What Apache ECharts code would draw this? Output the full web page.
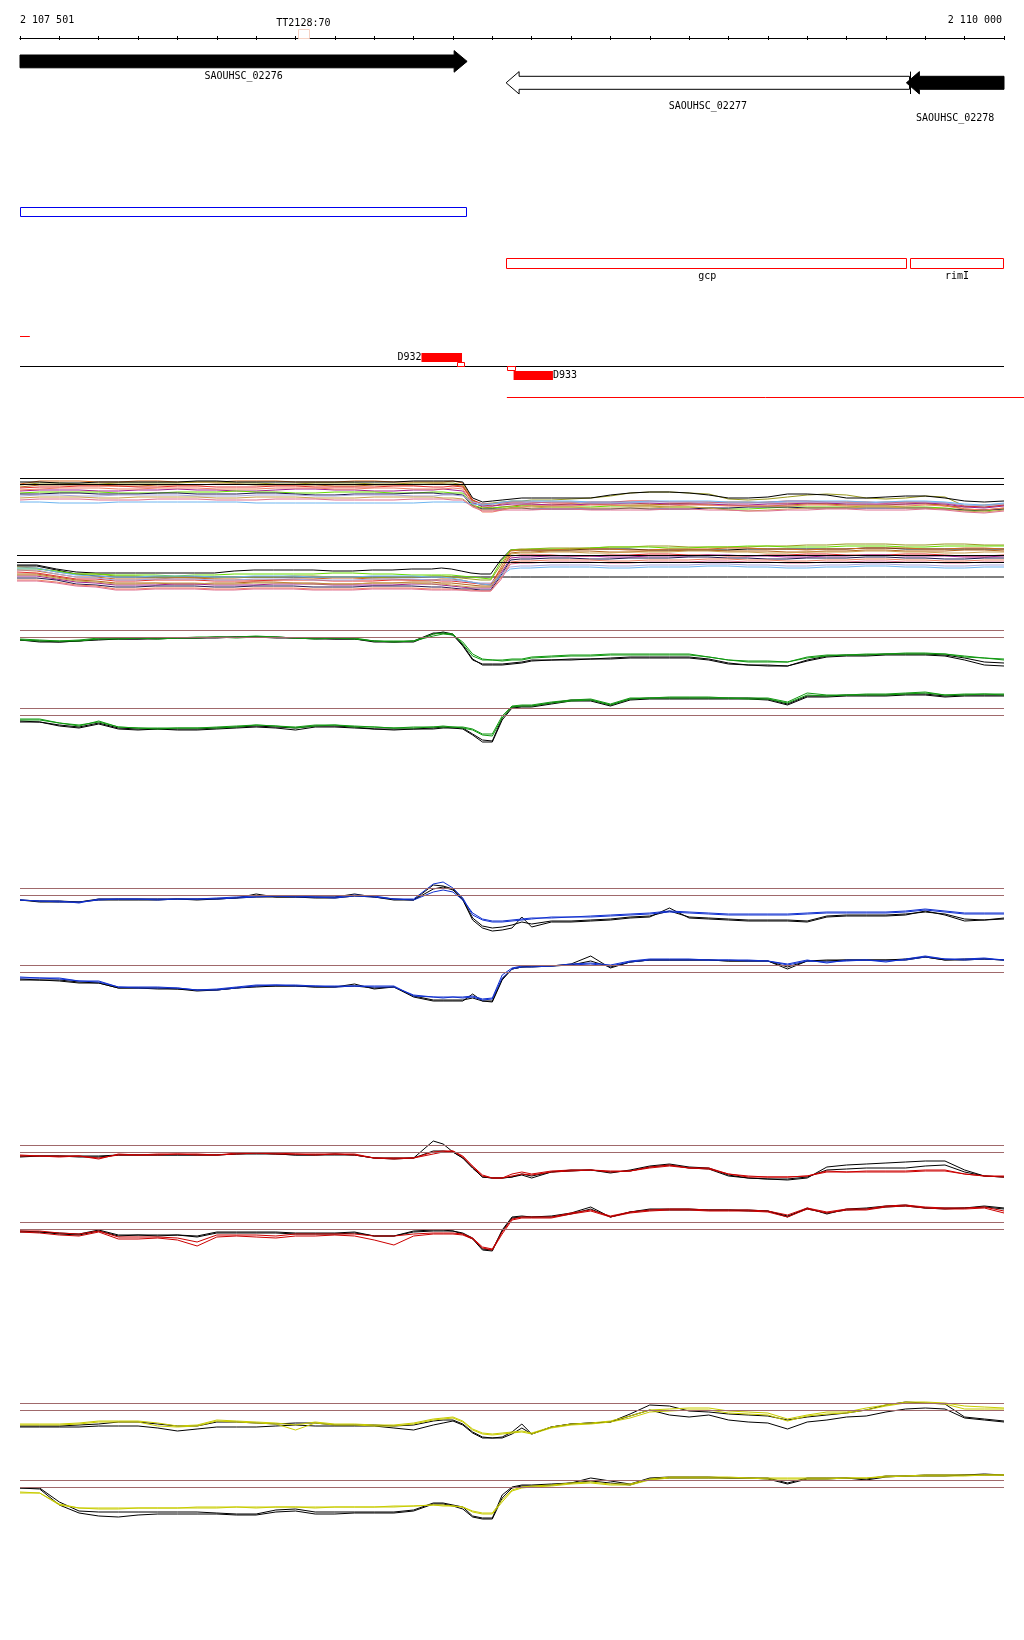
<!DOCTYPE html>
<html><head><meta charset="utf-8">
<script src="https://cdn.jsdelivr.net/npm/echarts@6.0.0/dist/echarts.min.js"></script>
<style>html,body{margin:0;padding:0;background:#fff}#main{width:1024px;height:1640px}</style>
</head><body><div id="main"></div>
<script>
// ---------------- DATA ----------------
const viewStart = 2107500, viewEnd = 2110000, tickStep = 100;
const rulerLabels = ['2 107 501', '2 110 000'];

const geneNames  = ['SAOUHSC_02276', 'SAOUHSC_02277', 'SAOUHSC_02278'];
const geneStart  = [2107380, 2108735, 2109752];
const geneEnd    = [2108636, 2109760, 2110320];
const geneStrand = ['+', '-', '-'];
const geneType   = ['CDS', 'misc', 'CDS'];

const probeLabels = ['TT2128:70'];
const probeStart  = [2108206];
const probeEnd    = [2108234];

const regionLabels = ['', 'gcp', 'rimI'];
const regionStart  = [2107380, 2108736, 2109761];
const regionEnd    = [2108636, 2109756, 2110300];
const regionStrand = ['+', '-', '-'];

const backbone = [viewStart, viewEnd];
const dashStart = [2107500], dashEnd = [2107525];
const siteLabels = ['D932', 'D933'];
const siteStart  = [2108520, 2108754];
const siteEnd    = [2108623, 2108854];
const siteStrand = ['+', '-'];
const boxStart  = [2108611, 2108737];
const boxEnd    = [2108630, 2108758];
const boxStrand = ['+', '-'];
const spanStart = [2108737], spanEnd = [2110051];

// probe positions shared by all signal tracks
const pos = [2107500,2107550,2107600,2107650,2107700,2107750,2107800,2107850,2107900,2107950,
 2108000,2108050,2108100,2108150,2108200,2108250,2108300,2108350,2108400,2108450,
 2108500,2108550,2108575,2108600,2108625,2108650,2108675,2108700,2108725,2108750,
 2108775,2108800,2108850,2108900,2108950,2109000,2109050,2109100,2109150,2109200,
 2109250,2109300,2109350,2109400,2109450,2109500,2109550,2109600,2109650,2109700,
 2109750,2109800,2109850,2109900,2109950,2110000];

// forward-strand multi-sample track
const fw1 = [3.6,3.9,3.9,3.9,3.8,3.8,3.9,3.9,3.8,3.8,3.8,3.9,3.9,3.9,3.8,3.8,3.8,3.9,3.9,3.8,3.8,3.8,3.8,3.9, 3.7,2.0, 1.5,1.4,1.6,1.7,1.7,1.7,1.8,1.8,1.7,1.7,1.7,1.6,1.6,1.7,1.7,1.8,1.8,1.7,1.7,1.7,1.6,1.7,1.7,1.8,1.8,1.7,1.4,1.3,1.5,1.6];
const fw2 = [3.5,3.7,3.7,3.6,3.6,3.7,3.7,3.7,3.7,3.8,3.8,3.7,3.7,3.6,3.6,3.7,3.7,3.7,3.6,3.6,3.7,3.7,3.7,3.7, 3.5,1.9, 1.6,1.7,1.8,1.9,1.9,2.0,2.0,2.1,2.2,2.4,2.7,2.8,2.8,2.7,2.6,2.1,2.0,2.1,2.3,2.5,2.6,2.5,2.2,2.1,2.2,2.4,2.3,1.4,1.3,1.5];
const fw3 = [3.3,3.5,3.5,3.5,3.5,3.4,3.4,3.5,3.5,3.5,3.6,3.6,3.5,3.5,3.5,3.5,3.4,3.4,3.5,3.5,3.5,3.6,3.6,3.5, 3.4,1.8, 1.3,1.2,1.3,1.4,1.5,1.5,1.5,1.6,1.6,1.5,1.5,1.5,1.6,1.6,1.5,1.5,1.4,1.4,1.5,1.6,1.6,1.5,1.5,1.5,1.6,1.6,1.5,1.1,1.0,1.2];
const fw4 = [3.2,3.3,3.3,3.4,3.4,3.4,3.3,3.3,3.4,3.4,3.3,3.3,3.3,3.4,3.4,3.3,3.3,3.3,3.3,3.4,3.4,3.3,3.3,3.4, 3.3,2.0, 1.6,1.6,1.7,1.8,1.8,1.8,1.7,1.7,1.8,1.8,1.9,1.9,1.8,1.8,1.8,1.7,1.7,1.8,1.9,1.9,1.8,1.8,1.8,1.7,1.8,1.8,1.7,1.4,1.3,1.5];
const fw5 = [2.9,3.0,3.0,3.0,2.9,2.9,3.0,3.0,3.1,3.0,3.0,2.9,2.9,3.0,3.1,3.1,3.0,3.0,2.9,2.9,3.0,3.0,3.1,3.0, 2.9,1.7, 1.4,1.4,1.5,1.6,1.6,1.6,1.5,1.5,1.6,1.6,1.7,1.7,1.6,1.6,1.6,1.5,1.5,1.6,1.6,1.7,1.7,1.6,1.6,1.6,1.6,1.7,1.6,1.3,1.2,1.4];
const fw6 = [2.7,2.8,2.8,2.8,2.8,2.7,2.7,2.7,2.8,2.8,2.8,2.9,2.8,2.8,2.7,2.7,2.8,2.8,2.8,2.7,2.7,2.8,2.8,2.7, 2.7,1.5, 1.2,1.2,1.3,1.3,1.4,1.4,1.3,1.3,1.3,1.4,1.4,1.4,1.3,1.3,1.2,1.1,1.1,1.2,1.3,1.3,1.3,1.3,1.4,1.4,1.3,1.3,1.2,1.0,0.9,1.1];
const fw7 = [2.6,2.6,2.7,2.7,2.6,2.6,2.6,2.7,2.7,2.6,2.6,2.6,2.7,2.7,2.6,2.5,2.5,2.6,2.6,2.6,2.7,2.7,2.6,2.6, 2.5,1.4, 1.1,1.1,1.1,1.2,1.2,1.1,1.1,1.1,1.1,1.1,1.2,1.1,1.1,1.1,1.2,1.2,1.3,1.3,1.3,1.2,1.2,1.2,1.2,1.2,1.2,1.2,1.1,1.0,1.0,1.1];
const fw8 = [3.0,3.1,3.2,3.2,3.2,3.1,3.1,3.2,3.2,3.2,3.1,3.1,3.1,3.2,3.2,3.2,3.1,3.1,3.2,3.2,3.1,3.1,3.1,3.2, 3.1,1.6, 0.8,0.8,1.0,1.2,1.3,1.4,1.4,1.4,1.5,1.5,1.4,1.4,1.4,1.5,1.5,1.4,1.4,1.4,1.4,1.5,1.5,1.4,1.4,1.4,1.4,1.5,1.4,1.1,1.0,1.2];
const fw9 = [2.4,2.5,2.5,2.4,2.4,2.5,2.5,2.5,2.5,2.4,2.4,2.4,2.5,2.5,2.5,2.4,2.4,2.5,2.5,2.5,2.4,2.4,2.5,2.5, 2.4,1.8, 1.6,1.6,1.7,1.7,1.7,1.8,1.8,1.8,1.7,1.7,1.7,1.8,1.8,1.8,1.7,1.7,1.7,1.7,1.8,1.8,1.8,1.7,1.7,1.8,1.8,1.8,1.7,1.5,1.4,1.6];
const fw10 = [2.2,2.3,2.3,2.3,2.2,2.2,2.3,2.3,2.3,2.3,2.2,2.2,2.3,2.3,2.3,2.2,2.2,2.2,2.3,2.3,2.3,2.3,2.2,2.2, 2.1,1.4, 1.0,1.0,1.1,1.2,1.2,1.2,1.3,1.3,1.2,1.2,1.2,1.2,1.3,1.3,1.2,1.0,0.9,1.0,1.1,1.2,1.2,1.2,1.3,1.3,1.2,1.2,1.1,0.9,0.8,1.0];
const fw11 = [1.8,1.8,1.7,1.7,1.7,1.8,1.8,1.8,1.8,1.8,1.8,1.8,1.7,1.7,1.7,1.7,1.7,1.7,1.7,1.7,1.7,1.8,1.8,1.8, 1.8,1.6, 1.5,1.6,1.8,1.9,1.9,1.9,1.9,1.9,1.8,1.8,1.8,1.9,1.9,1.9,1.9,1.8,1.8,1.8,1.9,1.9,1.9,1.9,1.8,1.8,1.9,1.9,1.8,1.6,1.5,1.7];
const fw12 = [2.0,2.1,2.1,2.1,2.0,2.0,2.0,2.1,2.1,2.1,2.0,2.0,2.0,2.1,2.1,2.1,2.0,2.0,2.0,2.0,2.1,2.1,2.1,2.0, 2.0,1.3, 0.9,0.9,1.0,1.0,1.0,1.0,1.1,1.1,1.0,1.0,1.0,1.0,1.1,1.1,1.0,1.0,0.9,0.9,1.0,1.0,1.1,1.1,1.0,1.0,1.0,1.1,1.0,0.8,0.7,0.9];
const fw13 = [3.8,3.8,3.7,3.7,3.8,3.8,3.8,3.8,3.8,3.9,3.9,3.8,3.8,3.8,3.8,3.8,3.8,3.8,3.8,3.8,3.9,3.9,3.9,3.9, 3.8,2.2, 1.8,1.9,2.0,2.1,2.2,2.2,2.2,2.2,2.2,2.5,2.7,2.8,2.8,2.7,2.5,2.2,2.2,2.3,2.6,2.6,2.5,2.2,2.2,2.3,2.4,2.4,2.2,1.9,1.8,1.9];
const fwRefs = [4.15, 3.55];

// reverse-strand multi-sample track
const rv1 = [3.3,3.2,2.8,2.6,2.6,2.4,2.4,2.3,2.3,2.2,2.2,2.3,2.3,2.3,2.4,2.4,2.3,2.3,2.2,2.3,2.3,2.4,2.4,2.3,2.2,2.1,2.0,2.0, 3.5,5.0, 5.1,5.1,5.2,5.2,5.2,5.3,5.3,5.4,5.4,5.3,5.3,5.3,5.3,5.4,5.4,5.5,5.5,5.6,5.6,5.6,5.5,5.5,5.6,5.6,5.5,5.5];
const rv2 = [3.1,3.1,2.9,2.6,2.6,2.5,2.5,2.5,2.4,2.5,2.5,2.6,2.6,2.6,2.6,2.6,2.7,2.7,2.6,2.6,2.5,2.5,2.5,2.5,2.4,2.3,2.2,2.1, 3.8,5.0, 5.0,5.1,5.1,5.1,5.2,5.3,5.3,5.3,5.2,5.2,5.3,5.3,5.4,5.4,5.3,5.3,5.3,5.4,5.4,5.4,5.3,5.3,5.4,5.4,5.4,5.4];
const rv3 = [3.0,2.9,2.6,2.3,2.3,2.1,2.1,2.1,2.2,2.2,2.1,2.1,2.0,2.0,2.1,2.1,2.2,2.2,2.1,2.1,2.0,2.0,2.1,2.1,2.0,1.8,1.6,1.5, 3.2,4.9, 5.0,5.0,5.0,5.1,5.1,5.1,5.0,5.0,5.1,5.1,5.1,5.2,5.2,5.1,5.1,5.0,5.1,5.1,5.2,5.2,5.2,5.1,5.1,5.2,5.2,5.1];
const rv4 = [2.6,2.6,2.3,2.0,1.9,1.7,1.7,1.7,1.6,1.6,1.7,1.7,1.8,1.8,1.7,1.7,1.6,1.6,1.7,1.7,1.8,1.8,1.7,1.7,1.6,1.5,1.4,1.4, 2.8,4.7, 4.8,4.8,4.9,4.9,4.9,4.8,4.8,4.9,4.9,5.0,5.0,4.9,4.9,4.9,4.8,4.8,4.9,4.9,5.0,5.0,4.9,4.9,4.9,5.0,5.0,4.9];
const rv5 = [2.8,2.7,2.4,2.1,2.1,1.9,1.9,2.0,2.0,2.0,1.9,1.9,1.9,2.0,2.0,2.0,1.9,1.9,1.9,2.0,2.0,2.0,1.9,1.9,1.8,1.7,1.6,1.6, 3.0,4.4, 4.5,4.5,4.5,4.4,4.4,4.5,4.5,4.6,4.6,4.5,4.5,4.4,4.4,4.5,4.5,4.6,4.6,4.5,4.5,4.5,4.6,4.6,4.5,4.4,4.4,4.5];
const rv6 = [2.4,2.4,2.1,1.8,1.7,1.5,1.5,1.5,1.6,1.6,1.5,1.5,1.5,1.6,1.6,1.6,1.5,1.5,1.5,1.5,1.6,1.6,1.5,1.4,1.3,1.2,1.2,1.2, 2.6,4.2, 4.3,4.3,4.4,4.4,4.4,4.3,4.3,4.4,4.4,4.4,4.5,4.5,4.4,4.4,4.3,4.3,4.4,4.4,4.5,4.5,4.4,4.4,4.4,4.3,4.3,4.4];
const rv7 = [2.2,2.2,2.0,1.6,1.5,1.3,1.3,1.4,1.4,1.4,1.3,1.3,1.4,1.4,1.4,1.3,1.3,1.3,1.4,1.4,1.4,1.3,1.3,1.2,1.1,1.1,1.0,1.0, 2.4,4.0, 4.1,4.1,4.2,4.2,4.1,4.1,4.2,4.2,4.2,4.3,4.3,4.2,4.2,4.1,4.1,4.2,4.2,4.2,4.3,4.3,4.2,4.2,4.1,4.1,4.2,4.2];
const rv8 = [2.0,2.0,1.8,1.5,1.4,1.1,1.1,1.2,1.2,1.2,1.1,1.1,1.2,1.2,1.2,1.1,1.1,1.1,1.2,1.2,1.2,1.1,1.1,1.1,1.0,1.0,0.9,0.9, 2.2,3.8, 3.9,3.9,4.0,4.0,4.0,3.9,3.9,4.0,4.0,4.0,4.1,4.1,4.0,4.0,3.9,3.9,4.0,4.0,4.1,4.1,4.0,4.0,3.9,3.9,4.0,4.0];
const rv9 = [3.0,3.0,2.6,2.3,2.2,2.0,2.0,2.1,2.1,2.1,2.0,2.0,2.1,2.1,2.1,2.0,2.0,2.0,2.1,2.1,2.1,2.0,2.0,2.0,1.9,1.8,1.7,1.7, 2.6,3.3, 3.4,3.4,3.5,3.5,3.5,3.4,3.4,3.5,3.5,3.5,3.6,3.6,3.5,3.5,3.4,3.4,3.5,3.5,3.6,3.6,3.5,3.5,3.4,3.4,3.5,3.5];
const rv10 = [3.2,3.2,2.8,2.5,2.4,2.3,2.3,2.4,2.4,2.4,2.3,2.3,2.4,2.4,2.4,2.3,2.3,2.3,2.4,2.4,2.4,2.3,2.3,2.2,2.0,1.8,1.6,1.5, 2.4,3.1, 3.2,3.2,3.3,3.3,3.3,3.2,3.2,3.3,3.3,3.3,3.4,3.4,3.3,3.3,3.2,3.2,3.3,3.3,3.4,3.4,3.3,3.3,3.2,3.2,3.3,3.3];
const rv11 = [1.9,1.9,1.7,1.4,1.3,1.0,1.0,1.1,1.1,1.1,1.0,1.0,1.1,1.1,1.1,1.0,1.0,1.0,1.1,1.1,1.1,1.0,1.0,1.0,1.0,0.9,0.9,0.9, 2.0,3.6, 3.7,3.7,3.8,3.8,3.8,3.7,3.7,3.8,3.8,3.8,3.9,3.9,3.8,3.8,3.7,3.7,3.8,3.8,3.9,3.9,3.8,3.8,3.7,3.7,3.8,3.8];
const rv12 = [2.5,2.5,2.2,1.9,1.8,1.6,1.6,1.7,1.7,1.7,1.6,1.6,1.7,1.7,1.7,1.6,1.6,1.6,1.7,1.7,1.7,1.6,1.6,1.5,1.4,1.3,1.3,1.3, 2.9,4.6, 4.7,4.7,4.8,4.8,4.7,4.7,4.8,4.8,4.8,4.9,4.9,4.8,4.8,4.7,4.7,4.8,4.8,4.8,4.9,4.9,4.8,4.8,4.7,4.7,4.8,4.8];
const rv13 = [3.4,3.4,3.0,2.6,2.4,2.3,2.3,2.3,2.3,2.3,2.3,2.3,2.3,2.3,2.3,2.3,2.3,2.3,2.3,2.3,2.3,2.3,2.3,2.3,2.3,2.3,2.3,2.3, 2.3,2.3, 2.3,2.3,2.3,2.3,2.3,2.3,2.3,2.3,2.3,2.3,2.3,2.3,2.3,2.3,2.3,2.3,2.3,2.3,2.3,2.3,2.3,2.3,2.3,2.3,2.3,2.3];
const rv14 = [3.5,3.5,3.1,2.8,2.7,2.7,2.7,2.7,2.7,2.7,2.7,2.9,3.0,3.0,3.0,3.0,2.9,2.9,3.0,3.0,3.1,3.1,3.2,3.1,2.9,2.7,2.6,2.6, 4.0,5.0, 5.0,5.0,5.0,5.0,5.1,5.1,5.1,5.0,5.0,5.0,5.0,5.0,5.1,5.1,5.1,5.1,5.1,5.1,5.2,5.2,5.1,5.1,5.1,5.1,5.1,5.1];
const rvRefs = [4.45, 3.75];

// green condition
const green1K1 = [4.0,3.9,3.8,3.9,4.1,4.1,4.1,4.2,4.2,4.2, 4.3,4.3,4.3,4.3,4.2,4.2,4.1,4.1,3.9,3.8, 3.9,4.7,4.7,4.5,3.4,2.0,1.6,1.6,1.6,1.7, 1.8,2.0,2.0,2.1,2.1,2.2,2.3,2.3,2.3,2.3, 2.1,1.7,1.5,1.5,1.4,2.0,2.4,2.5,2.5,2.6, 2.6,2.6,2.5,2.2,1.8,1.7];
const green1K2 = [4.0,3.8,3.8,3.9,4.0,4.1,4.1,4.1,4.2,4.2, 4.2,4.3,4.3,4.2,4.2,4.1,4.1,4.1,3.8,3.8, 3.8,4.6,4.8,4.6,3.5,2.1,1.5,1.5,1.5,1.6, 1.7,1.9,2.0,2.0,2.1,2.1,2.2,2.2,2.2,2.2, 2.0,1.6,1.5,1.4,1.4,1.9,2.3,2.4,2.4,2.5, 2.5,2.5,2.4,2.0,1.5,1.4];
const green1A = [4.1,4.0,3.9,4.0,4.2,4.2,4.2,4.2,4.2,4.3, 4.3,4.3,4.4,4.3,4.2,4.2,4.2,4.2,3.9,3.9, 3.9,4.6,4.7,4.6,3.6,2.4,2.0,2.0,2.0,2.1, 2.1,2.3,2.4,2.5,2.5,2.6,2.6,2.6,2.6,2.6, 2.3,2.0,1.9,1.9,1.8,2.3,2.5,2.5,2.6,2.6, 2.7,2.7,2.6,2.3,2.2,2.1];
const green1B = [4.0,3.9,3.9,3.9,4.1,4.1,4.2,4.1,4.2,4.2, 4.3,4.2,4.3,4.3,4.2,4.1,4.2,4.1,3.9,3.8, 3.9,4.4,4.6,4.5,3.8,2.6,2.1,2.0,1.9,2.0, 2.0,2.2,2.3,2.4,2.4,2.5,2.5,2.5,2.5,2.5, 2.3,2.0,1.8,1.8,1.8,2.2,2.4,2.5,2.5,2.6, 2.6,2.6,2.6,2.4,2.2,2.0];
const green1Refs = [4.95, 4.25];
const green2K1 = [3.9,3.8,3.5,3.3,3.7,3.2,3.1,3.1,3.1,3.1, 3.2,3.3,3.4,3.3,3.2,3.4,3.4,3.3,3.1,3.1, 3.1,3.2,3.3,3.2,3.2,2.6,2.0,1.9,4.2,5.3, 5.4,5.4,5.7,6.0,6.0,5.5,6.1,6.2,6.2,6.2, 6.2,6.2,6.2,6.1,5.6,6.4,6.4,6.5,6.5,6.5, 6.6,6.6,6.4,6.5,6.5,6.5];
const green2K2 = [3.8,3.8,3.4,3.2,3.6,3.1,3.0,3.1,3.0,3.0, 3.1,3.2,3.3,3.2,3.0,3.3,3.3,3.2,3.1,3.0, 3.1,3.1,3.2,3.2,3.1,2.5,1.8,1.8,4.0,5.2, 5.3,5.3,5.6,5.9,5.9,5.4,6.0,6.1,6.1,6.1, 6.1,6.1,6.1,6.0,5.5,6.3,6.3,6.4,6.4,6.4, 6.5,6.5,6.3,6.4,6.4,6.4];
const green2A = [4.1,4.1,3.7,3.4,3.9,3.3,3.2,3.2,3.2,3.2, 3.3,3.4,3.5,3.4,3.3,3.5,3.5,3.4,3.3,3.2, 3.3,3.3,3.4,3.3,3.3,3.1,2.6,2.6,4.4,5.4, 5.5,5.5,5.8,6.0,6.1,5.6,6.2,6.2,6.3,6.3, 6.3,6.2,6.2,6.2,5.8,6.7,6.5,6.5,6.6,6.6, 6.7,6.8,6.5,6.6,6.6,6.6];
const green2B = [4.0,4.0,3.7,3.5,3.8,3.3,3.2,3.1,3.2,3.2, 3.2,3.3,3.5,3.4,3.2,3.4,3.5,3.3,3.3,3.2, 3.2,3.3,3.3,3.3,3.2,3.0,2.5,2.4,4.2,5.3, 5.4,5.4,5.7,5.9,6.0,5.5,6.1,6.2,6.2,6.2, 6.2,6.2,6.1,6.1,5.7,6.5,6.4,6.5,6.5,6.5, 6.6,6.7,6.5,6.5,6.6,6.5];
const green2Refs = [5.15, 4.45];

// blue condition
const blue1K1 = [4.0,3.9,3.9,3.8,4.1,4.1,4.1,4.1,4.1,4.1, 4.1,4.2,4.6,4.3,4.3,4.3,4.3,4.6,4.3,4.1, 4.0,5.5,5.4,5.1,4.0,2.0,1.2,0.9,1.0,1.2, 2.3,1.3,1.8,1.8,1.9,2.0,2.2,2.3,3.2,2.2, 2.1,2.0,1.9,1.9,1.9,1.8,2.3,2.4,2.4,2.4, 2.5,2.9,2.5,1.9,2.0,2.2];
const blue1K2 = [4.0,3.8,3.8,3.8,4.0,4.0,4.0,4.0,4.1,4.0, 4.1,4.2,4.3,4.3,4.3,4.2,4.2,4.4,4.3,4.0, 4.0,5.1,5.3,5.0,4.1,2.2,1.4,1.2,1.3,1.5, 1.8,1.6,1.9,1.9,2.0,2.1,2.3,2.4,2.9,2.3, 2.2,2.1,2.0,2.0,2.0,1.9,2.4,2.5,2.5,2.5, 2.6,2.8,2.6,2.1,2.0,2.1];
const blue1A = [4.0,3.9,3.9,3.7,4.1,4.1,4.1,4.1,4.1,4.1, 4.2,4.3,4.4,4.4,4.4,4.3,4.3,4.5,4.4,4.1, 4.1,5.6,5.8,5.2,4.2,2.5,2.0,1.8,1.8,1.9, 2.0,2.1,2.3,2.3,2.4,2.5,2.6,2.7,2.9,2.8, 2.7,2.6,2.6,2.6,2.6,2.7,2.8,2.8,2.8,2.8, 2.9,3.1,2.9,2.7,2.7,2.7];
const blue1B = [4.0,3.9,3.8,3.8,4.0,4.1,4.1,4.0,4.1,4.1, 4.1,4.2,4.3,4.4,4.3,4.3,4.2,4.4,4.3,4.1, 4.0,4.8,5.0,4.8,4.0,2.7,2.1,1.9,1.9,2.0, 2.1,2.2,2.2,2.3,2.3,2.4,2.5,2.6,2.8,2.7, 2.6,2.5,2.5,2.5,2.5,2.6,2.7,2.7,2.7,2.7, 2.8,3.0,2.8,2.6,2.6,2.6];
const blue1Refs = [5.15, 4.45];
const blue2K1 = [4.0,4.0,3.9,3.7,3.7,3.2,3.2,3.1,3.1,2.9, 3.0,3.2,3.3,3.4,3.4,3.3,3.3,3.6,3.1,3.3, 2.3,1.9,1.9,1.9,1.9,2.6,1.9,1.8,4.0,5.1, 5.3,5.4,5.4,5.6,6.4,5.2,5.8,6.0,6.0,6.0, 6.0,5.9,5.9,5.9,5.1,5.9,5.9,6.0,6.0,6.0, 6.1,6.3,6.0,6.1,6.1,6.0];
const blue2K2 = [4.1,4.0,4.0,3.8,3.7,3.2,3.2,3.2,3.1,3.0, 3.0,3.2,3.4,3.4,3.4,3.3,3.3,3.4,3.2,3.3, 2.4,2.0,2.0,2.0,2.0,2.2,1.9,1.9,4.1,5.1, 5.3,5.3,5.4,5.5,5.9,5.3,5.8,6.0,6.0,6.0, 6.0,5.9,5.9,5.9,5.3,5.9,6.0,6.0,6.0,6.0, 6.0,6.3,6.0,6.0,6.1,6.0];
const blue2A = [4.3,4.2,4.2,3.9,3.9,3.3,3.3,3.3,3.2,3.0, 3.1,3.3,3.5,3.5,3.5,3.4,3.4,3.4,3.4,3.4, 2.4,2.3,2.3,2.3,2.3,2.4,2.1,2.2,4.5,5.2, 5.4,5.4,5.4,5.6,5.7,5.5,5.9,6.1,6.1,6.1, 6.0,6.0,6.0,5.9,5.6,6.0,5.7,6.0,6.0,5.8, 6.1,6.4,6.1,6.1,6.2,6.0];
const blue2B = [4.2,4.2,4.1,3.9,3.8,3.3,3.2,3.2,3.2,3.0, 3.0,3.2,3.4,3.5,3.4,3.4,3.3,3.4,3.3,3.3, 2.5,2.3,2.2,2.3,2.2,2.3,2.0,2.1,4.2,5.1, 5.3,5.3,5.4,5.5,5.6,5.4,5.8,6.0,6.0,6.0, 6.0,6.0,5.9,5.9,5.5,5.9,5.8,5.9,6.0,5.9, 6.0,6.3,6.1,6.0,6.1,6.0];
const blue2Refs = [5.45, 4.75];

// red condition
const red1K1 = [4.3,4.4,4.4,4.4,4.4,4.5,4.5,4.5,4.5,4.5, 4.5,4.6,4.7,4.6,4.5,4.5,4.6,4.5,4.2,4.1, 4.2,5.9,5.6,4.8,4.2,3.2,2.3,2.2,2.2,2.3, 2.5,2.2,2.8,3.0,3.0,2.7,3.0,3.4,3.6,3.3, 3.2,2.5,2.2,2.1,2.0,2.2,3.3,3.5,3.6,3.7, 3.8,3.9,3.9,3.0,2.4,2.3];
const red1K2 = [4.4,4.4,4.4,4.3,4.3,4.5,4.5,4.5,4.5,4.5, 4.5,4.6,4.6,4.6,4.5,4.5,4.5,4.5,4.2,4.2, 4.2,4.9,4.9,4.8,4.2,3.2,2.3,2.2,2.2,2.3, 2.6,2.4,2.8,2.9,3.0,2.8,2.9,3.3,3.5,3.2, 3.1,2.4,2.2,2.1,2.1,2.3,3.0,3.1,3.2,3.2, 3.2,3.4,3.5,2.8,2.4,2.3];
const red1A = [4.5,4.4,4.4,4.4,4.1,4.6,4.5,4.6,4.6,4.6, 4.5,4.7,4.7,4.7,4.6,4.6,4.6,4.6,4.2,4.2, 4.2,4.8,4.9,4.9,4.3,3.3,2.4,2.2,2.2,2.6, 2.8,2.6,2.9,3.0,3.0,2.9,2.9,3.3,3.5,3.2, 3.2,2.6,2.4,2.3,2.3,2.4,2.9,2.8,2.9,2.9, 2.9,3.0,3.0,2.6,2.4,2.4];
const red1B = [4.4,4.4,4.3,4.4,4.2,4.5,4.5,4.5,4.6,4.5, 4.5,4.6,4.7,4.6,4.6,4.5,4.6,4.5,4.2,4.1, 4.2,4.6,4.8,4.9,4.4,3.4,2.5,2.2,2.2,2.4, 2.6,2.5,2.8,2.9,3.0,2.8,2.9,3.2,3.4,3.2, 3.1,2.6,2.3,2.3,2.3,2.4,2.8,2.8,2.8,2.8, 2.8,2.9,2.9,2.6,2.4,2.3];
const red1Refs = [5.45, 4.75];
const red2K1 = [4.9,4.8,4.7,4.6,5.0,4.5,4.5,4.5,4.5,4.4, 4.8,4.8,4.8,4.8,4.7,4.7,4.7,4.8,4.4,4.4, 4.9,5.0,5.0,4.9,4.7,4.2,3.1,3.0,5.0,6.3, 6.4,6.3,6.4,6.7,7.3,6.3,6.8,7.1,7.1,7.1, 7.0,7.0,7.0,6.9,6.3,7.2,6.6,7.1,7.2,7.4, 7.5,7.2,7.2,7.2,7.4,7.2];
const red2K2 = [4.8,4.8,4.6,4.5,4.9,4.4,4.5,4.4,4.5,4.3, 4.7,4.7,4.7,4.7,4.6,4.6,4.6,4.7,4.4,4.4, 4.8,4.9,4.9,4.9,4.6,4.1,3.0,2.9,4.9,6.2, 6.3,6.3,6.3,6.6,7.1,6.3,6.8,7.0,7.0,7.0, 7.0,7.0,6.9,6.9,6.4,7.1,6.7,7.0,7.1,7.3, 7.4,7.2,7.1,7.2,7.3,7.1];
const red2A = [4.9,4.9,4.7,4.6,4.9,4.3,4.3,4.3,4.2,3.8, 4.5,4.5,4.5,4.4,4.6,4.6,4.6,4.6,4.4,4.4, 4.6,4.7,4.7,4.7,4.6,4.2,3.3,3.1,4.8,6.1, 6.3,6.3,6.3,6.7,7.0,6.4,6.8,7.0,7.1,7.1, 7.0,7.0,7.0,6.9,6.5,7.2,6.8,7.1,7.1,7.4, 7.5,7.3,7.2,7.2,7.3,6.9];
const red2B = [4.8,4.7,4.5,4.4,4.8,4.1,4.1,4.2,4.0,3.4, 4.3,4.4,4.3,4.2,4.4,4.4,4.5,4.4,4.0,3.5, 4.4,4.6,4.6,4.6,4.5,4.1,3.2,3.0,4.6,6.0, 6.2,6.2,6.2,6.6,6.9,6.3,6.7,6.9,7.0,7.0, 6.9,6.9,6.9,6.8,6.3,7.1,6.7,7.0,7.0,7.3, 7.4,7.2,7.1,7.1,7.2,6.7];
const red2Refs = [5.75, 5.05];

// yellow condition
const yel1K1 = [3.4,3.4,3.4,3.5,3.6,3.8,3.8,3.6,3.4,3.4, 3.8,3.8,3.7,3.6,3.7,3.7,3.5,3.5,3.5,3.4, 3.5,3.9,4.0,4.0,3.6,2.8,2.3,2.2,2.3,2.8, 3.6,2.6,3.3,3.6,3.7,3.8,4.6,5.5,5.4,4.9, 4.8,4.6,4.5,4.4,4.0,4.3,4.5,4.7,5.0,5.5, 5.8,5.7,5.6,4.3,4.1,3.9];
const yel1K2 = [3.3,3.3,3.3,3.3,3.4,3.4,3.4,3.2,2.9,3.1, 3.3,3.3,3.3,3.4,3.5,3.4,3.4,3.4,3.4,3.2, 3.0,3.5,3.7,3.9,3.5,2.7,2.2,2.2,2.2,2.6, 3.2,2.6,3.3,3.6,3.7,3.8,4.4,5.0,4.5,4.3, 4.5,4.0,3.8,3.7,3.1,3.8,4.0,4.3,4.4,4.8, 5.1,5.2,5.1,4.2,4.0,3.8];
const yel1A = [3.6,3.6,3.6,3.7,3.9,3.9,3.9,3.7,3.4,3.5, 4.0,3.9,3.8,3.7,3.5,3.8,3.6,3.6,3.5,3.5, 3.7,4.1,4.2,4.3,3.9,3.1,2.7,2.6,2.7,2.8, 2.9,2.7,3.3,3.6,3.7,3.9,4.4,5.0,5.1,5.2, 5.2,4.9,4.8,4.7,4.1,4.5,4.8,4.8,5.2,5.5, 5.8,5.8,5.7,5.4,5.3,5.2];
const yel1B = [3.5,3.5,3.5,3.6,3.8,3.8,3.8,3.4,3.3,3.4, 3.9,3.8,3.7,3.6,3.0,3.7,3.5,3.5,3.4,3.4, 3.6,4.0,4.1,4.2,3.8,3.0,2.6,2.5,2.6,2.7, 2.8,2.6,3.2,3.5,3.6,3.8,4.2,4.8,4.9,5.0, 5.0,4.7,4.6,4.5,3.9,4.4,4.6,4.7,5.0,5.4, 5.7,5.7,5.6,5.1,5.1,5.1];
const yel1Refs = [5.65, 4.95];
const yel2K1 = [5.2,5.2,3.8,2.9,2.8,2.8,2.8,2.8,2.8,2.8, 2.7,2.6,2.6,3.0,3.1,2.8,2.8,2.8,2.8,2.8, 3.0,3.7,3.7,3.5,3.3,2.4,2.2,2.2,4.5,5.3, 5.5,5.5,5.6,5.7,6.2,5.9,5.6,6.2,6.3,6.3, 6.3,6.2,6.2,6.2,5.7,6.2,6.2,6.2,6.1,6.4, 6.4,6.5,6.5,6.5,6.6,6.5];
const yel2K2 = [5.2,5.1,3.5,2.7,2.4,2.3,2.5,2.6,2.6,2.6, 2.6,2.5,2.5,2.8,2.9,2.6,2.6,2.7,2.7,2.7, 2.9,3.6,3.6,3.4,3.1,2.3,2.1,2.1,4.2,5.2, 5.4,5.4,5.5,5.7,5.9,5.7,5.5,6.1,6.2,6.2, 6.2,6.2,6.2,6.1,5.6,6.1,6.1,6.2,6.0,6.3, 6.4,6.4,6.4,6.5,6.5,6.5];
const yel2A = [4.8,4.7,3.5,3.2,3.2,3.2,3.2,3.2,3.2,3.3, 3.3,3.3,3.3,3.3,3.3,3.3,3.3,3.3,3.3,3.4, 3.4,3.5,3.5,3.4,3.3,2.9,2.7,2.7,4.0,5.0, 5.3,5.4,5.5,5.7,5.8,5.6,5.6,6.1,6.3,6.3, 6.3,6.3,6.2,6.2,6.2,6.2,6.2,6.2,6.2,6.4, 6.4,6.5,6.5,6.5,6.5,6.5];
const yel2B = [4.7,4.7,3.6,3.2,3.1,3.1,3.2,3.2,3.2,3.2, 3.2,3.3,3.2,3.3,3.3,3.2,3.3,3.3,3.3,3.3, 3.4,3.5,3.4,3.4,3.3,2.8,2.6,2.6,3.8,4.9, 5.2,5.3,5.4,5.6,5.7,5.5,5.5,6.0,6.2,6.2, 6.2,6.2,6.2,6.1,6.1,6.1,6.1,6.2,6.2,6.3, 6.4,6.4,6.4,6.4,6.5,6.5];
const yel2Refs = [5.95, 5.25];

// ---------------- STYLE / LAYOUT ----------------
const FONT = '10px "DejaVu Sans Mono", "Liberation Mono", monospace';
const REF_COLOR = '#a0696b';
const C = {green:'#119911', blue:'#1030d0', red:'#cc0000', yellow:'#c8cc00'};
const fwColors = ['#d2691e','#9a9a20','#b5651d','#e03030','#a02090','#66dd00','#201850','#f08060','#a8a8e0','#c8a050','#6cb4f0','#e07090','#000000'];
const rvColors = ['#9a9a20','#66dd00','#d2691e','#b5651d','#e03030','#a02090','#201850','#f08060','#a8a8e0','#6cb4f0','#e07090','#c8a050','#000000','#000000'];
const L = {
  geneFwdY: 61.4, geneFwdBody: 6.4, geneFwdHead: 10.8,
  geneRevY: 82.8, geneRevBody: 6.5, geneRevHead: 11.2, headLen: 13,
  geneLabelFwdY: 76, geneLabelRevY: [106.5, 118],
  probeTop: 29.5, probeBottom: 38.5, probeLabelY: 23,
  regFwd: [207.5, 216.5], regRev: [258.5, 268.5], regLabelY: 276,
  dashY: 336.5, backboneY: 366.5,
  siteFwd: [353, 362], siteRev: [371, 380], siteFwdLabelY: 357.5, siteRevLabelY: 375.7,
  boxFwd: [362.5, 366.5], boxRev: [366.5, 370.5], spanY: 397.5
};

function txt(text, x, y, align) {
  return {type:'text', silent:true, style:{text, x, y, font:FONT, fill:'#000',
    align, verticalAlign:'middle', textAlign:align, textVerticalAlign:'middle'}};
}
function X(api, v) { return api.coord([v, 0])[0]; }

function renderGene(params, api) {
  const i = api.value(2), cs = params.coordSys;
  const lo = cs.x, hi = cs.x + cs.width;
  const a = X(api, api.value(0)), b = X(api, api.value(1));
  const rev = geneStrand[i] === '-';
  const filled = geneType[i] === 'CDS';
  const cy = rev ? L.geneRevY : L.geneFwdY;
  const bh = rev ? L.geneRevBody : L.geneFwdBody;
  const hh = rev ? L.geneRevHead : L.geneFwdHead;
  let pts, endX;
  if (!rev) {
    const base = b - L.headLen, s = Math.max(a, lo); endX = s;
    pts = [[s,cy-bh],[base,cy-bh],[base,cy-hh],[b,cy],[base,cy+hh],[base,cy+bh],[s,cy+bh]];
  } else {
    const base = a + L.headLen, e = Math.min(b, hi); endX = e;
    pts = [[e,cy-bh],[base,cy-bh],[base,cy-hh],[a,cy],[base,cy+hh],[base,cy+bh],[e,cy+bh]];
  }
  const children = [{type:'polygon', shape:{points:pts}, style:{fill: filled ? '#000' : '#fff', stroke:'#000', lineWidth:1}}];
  if (!filled) children.push({type:'line', shape:{x1:Math.round(endX)+0.5, y1:cy-hh, x2:Math.round(endX)+0.5, y2:cy+hh}, style:{stroke:'#000', lineWidth:1}});
  let revIdx = 0; for (let k = 0; k < i; k++) if (geneStrand[k] === '-') revIdx++;
  const ly = rev ? L.geneLabelRevY[revIdx % 2] : L.geneLabelFwdY;
  const vs = Math.max(a, lo), ve = Math.min(b, hi);
  children.push(txt(geneNames[i], (vs + ve) / 2, ly, 'center'));
  return {type:'group', children};
}
function renderProbe(params, api) {
  const i = api.value(2);
  const a = X(api, api.value(0)), b = X(api, api.value(1));
  return {type:'group', children:[
    {type:'rect', shape:{x:Math.round(a)+0.5, y:L.probeTop, width:Math.round(b-a), height:L.probeBottom-L.probeTop}, style:{fill:'#fff', stroke:'#f6d2c4', lineWidth:1}},
    txt(probeLabels[i], (a+b)/2, L.probeLabelY, 'center')
  ]};
}
function renderRegion(params, api) {
  const i = api.value(2), cs = params.coordSys;
  const a = Math.max(X(api, api.value(0)), cs.x), b = Math.min(X(api, api.value(1)), cs.x + cs.width);
  const rev = regionStrand[i] === '-';
  const yy = rev ? L.regRev : L.regFwd;
  const children = [{type:'rect', shape:{x:Math.round(a)+0.5, y:yy[0], width:Math.round(b-a)-1, height:yy[1]-yy[0]},
    style:{fill:'none', stroke: rev ? '#ff0000' : '#0000ee', lineWidth:1}}];
  if (regionLabels[i]) children.push(txt(regionLabels[i], (a+b)/2, L.regLabelY, 'center'));
  return {type:'group', children};
}
function renderBackbone(params, api) {
  const a = X(api, api.value(0)), b = X(api, api.value(1));
  return {type:'line', shape:{x1:a, y1:L.backboneY, x2:b, y2:L.backboneY}, style:{stroke:'#000', lineWidth:1}};
}
function renderDash(params, api) {
  const a = X(api, api.value(0)), b = X(api, api.value(1));
  return {type:'line', shape:{x1:a, y1:L.dashY, x2:b, y2:L.dashY}, style:{stroke:'#ff0000', lineWidth:1}};
}
function renderSite(params, api) {
  const i = api.value(2);
  const a = X(api, api.value(0)), b = X(api, api.value(1));
  const rev = siteStrand[i] === '-';
  const yy = rev ? L.siteRev : L.siteFwd;
  return {type:'group', children:[
    {type:'rect', shape:{x:a, y:yy[0], width:b-a, height:yy[1]-yy[0]}, style:{fill:'#ff0000'}},
    rev ? txt(siteLabels[i], b, L.siteRevLabelY, 'left') : txt(siteLabels[i], a, L.siteFwdLabelY, 'right')
  ]};
}
function renderBox(params, api) {
  const i = api.value(2);
  const a = X(api, api.value(0)), b = X(api, api.value(1));
  const yy = boxStrand[i] === '-' ? L.boxRev : L.boxFwd;
  return {type:'rect', shape:{x:Math.round(a)+0.5, y:yy[0], width:Math.round(b-a), height:yy[1]-yy[0]}, style:{fill:'#fff', stroke:'#ff0000', lineWidth:1}};
}
function renderSpan(params, api) {
  const a = X(api, api.value(0)), b = X(api, api.value(1));
  return {type:'line', shape:{x1:a, y1:L.spanY, x2:b, y2:L.spanY}, style:{stroke:'#ff0000', lineWidth:1}};
}

// ---------------- GRIDS ----------------
const grids = [], xAxes = [], yAxes = [], series = [];
function addGrid(g, yMin, yMax, xShow) {
  const gi = grids.length;
  grids.push(Object.assign({outerBoundsMode:'none', containLabel:false}, g));
  xAxes.push(Object.assign({gridIndex:gi, type:'value', min:viewStart, max:viewEnd, show:false}, xShow || {}));
  yAxes.push({gridIndex:gi, type:'value', min:yMin, max:yMax, show:false});
  return gi;
}
const rulerAxis = (position) => ({show:true, position, interval:tickStep,
  axisLine:{show:true, onZero:false, lineStyle:{color:'#000', width:1}},
  axisTick:{show:true, length:2, inside:false, lineStyle:{color:'#000', width:1}},
  axisLabel:{show:false}, splitLine:{show:false}});
addGrid({left:20, width:984, top:38, height:10}, 0, 1, rulerAxis('top'));
addGrid({left:20, width:984, top:28, height:10}, 0, 1, rulerAxis('bottom'));
const gf = addGrid({left:20, width:984, top:0, height:420}, 0, 1);

function custom(render, starts, ends, z, clip) {
  series.push({type:'custom', xAxisIndex:gf, yAxisIndex:gf, renderItem:render, silent:true, clip: !!clip, z: z || 3,
    encode:{x:[0,1]}, data: starts.map((s, i) => [s, ends[i], i])});
}
custom(renderProbe, probeStart, probeEnd, 5);
custom(renderGene, geneStart, geneEnd);
custom(renderRegion, regionStart, regionEnd);
custom(renderDash, dashStart, dashEnd);
custom(renderBackbone, [backbone[0]], [backbone[1]]);
custom(renderSite, siteStart, siteEnd);
custom(renderBox, boxStart, boxEnd, 4);
custom(renderSpan, spanStart, spanEnd);

function addTrack(gi, lines, colors, refs, refColor) {
  lines.forEach((arr, k) => {
    if (arr.length !== pos.length) console.error('length mismatch', gi, k, arr.length);
    const s = {type:'line', xAxisIndex:gi, yAxisIndex:gi, silent:true, symbol:'none', showSymbol:false,
      lineStyle:{color:colors[k], width:1}, data: pos.map((p, j) => [p, arr[j]])};
    if (k === 0) s.markLine = {silent:true, symbol:['none','none'], label:{show:false},
      lineStyle:{color:refColor, width:1, type:'solid'}, data: refs.map(v => ({yAxis:v}))};
    series.push(s);
  });
}
const gFw = addGrid({left:20, width:984, top:470, height:50}, 0, 5);
addTrack(gFw, [fw1,fw2,fw3,fw4,fw5,fw6,fw7,fw8,fw9,fw10,fw11,fw12,fw13], fwColors, fwRefs, '#000');
const gRv = addGrid({left:17, width:987, top:530, height:70}, 0, 7);
addTrack(gRv, [rv13,rv14,rv1,rv2,rv3,rv4,rv5,rv6,rv7,rv8,rv9,rv10,rv11,rv12],
  ['#000','#000'].concat(rvColors.slice(0,12)), rvRefs, '#000');

const panels = [
  [580,  [green1K1, green1K2, green1A, green1B], C.green, green1Refs],
  [660,  [green2K1, green2K2, green2A, green2B], C.green, green2Refs],
  [840,  [blue1K1, blue1K2, blue1A, blue1B], C.blue, blue1Refs],
  [920,  [blue2K1, blue2K2, blue2A, blue2B], C.blue, blue2Refs],
  [1100, [red1K1, red1K2, red1A, red1B], C.red, red1Refs],
  [1180, [red2K1, red2K2, red2A, red2B], C.red, red2Refs],
  [1360, [yel1K1, yel1K2, yel1A, yel1B], C.yellow, yel1Refs],
  [1440, [yel2K1, yel2K2, yel2A, yel2B], C.yellow, yel2Refs]
];
panels.forEach(([top, lines, col, refs]) => {
  const gi = addGrid({left:20, width:984, top, height:100}, 0, 10);
  addTrack(gi, lines, ['#000','#000',col,col], refs, REF_COLOR);
});

const chart = echarts.init(document.getElementById('main'), null, {renderer:'canvas'});
chart.setOption({
  animation:false, backgroundColor:'#fff',
  grid:grids, xAxis:xAxes, yAxis:yAxes, series,
  graphic:[
    {type:'text', silent:true, style:{text:rulerLabels[0], x:20, y:20, font:FONT, fill:'#000', align:'left', verticalAlign:'middle', textAlign:'left', textVerticalAlign:'middle'}},
    {type:'text', silent:true, style:{text:rulerLabels[1], x:1002, y:20, font:FONT, fill:'#000', align:'right', verticalAlign:'middle', textAlign:'right', textVerticalAlign:'middle'}}
  ]
});
</script></body></html>
